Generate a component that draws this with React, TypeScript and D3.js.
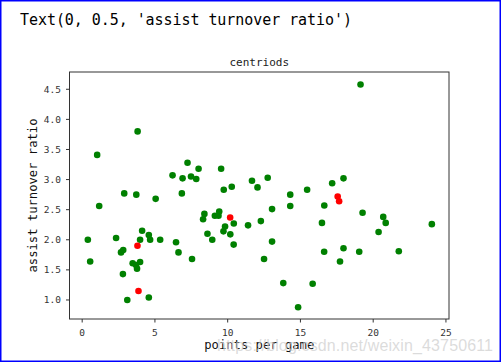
import React from "react";
import * as d3 from "d3";

const W = 502;
const H = 363;

// green player points: points per game
const greenX = [
  1.03, 3.81, 7.24, 6.21, 6.9, 7.48, 7.84, 8.0, 9.55, 9.73, 10.28, 11.67, 2.89, 3.72, 5.05, 6.85, 1.17,
  19.13, 12.05, 12.75, 14.3, 15.46, 17.18, 17.96, 13.05, 14.3, 16.64, 19.27, 8.4, 8.31, 9.12, 9.42, 9.37,
  10.42, 11.4, 12.28, 9.82, 9.71, 10.18, 8.61, 8.94, 10.41, 13.05, 12.5, 13.82, 15.84, 14.84, 16.48,
  20.69, 20.86, 20.37, 24.03, 17.96, 16.63, 19.04, 17.72, 21.76, 0.39, 0.55, 2.33, 4.12, 3.98, 4.58,
  4.67, 5.36, 2.67, 2.82, 6.45, 6.62, 7.55, 3.47, 3.98, 3.7, 3.77, 2.8, 3.1, 4.58,
];
// green player points: assist turnover ratio
const greenY = [
  3.41, 3.8, 3.28, 3.07, 3.02, 3.05, 3.01, 3.18, 3.18, 2.83, 2.88, 2.98, 2.77, 2.75, 2.68, 2.77, 2.56,
  4.58, 2.87, 3.03, 2.75, 2.83, 2.94, 3.02, 2.51, 2.56, 2.57, 2.45, 2.43, 2.34, 2.4, 2.47, 2.4,
  2.27, 2.24, 2.31, 2.22, 2.14, 2.09, 2.1, 2.0, 1.92, 1.97, 1.68, 1.28, 1.27, 0.88, 2.28,
  2.38, 2.28, 2.13, 2.26, 1.86, 1.8, 1.8, 1.64, 1.81, 2.0, 1.64, 2.03, 2.15, 2.0, 2.08,
  2.0, 2.0, 1.79, 1.83, 1.96, 1.79, 1.68, 1.61, 1.63, 1.58, 1.52, 1.43, 1.0, 1.04,
];

// red centroids
const centroidX = [3.8, 3.87, 10.17, 17.56, 17.66];
const centroidY = [1.9, 1.15, 2.37, 2.72, 2.64];

const xTicks = [0, 5, 10, 15, 20, 25];
const yTicks = [1.0, 1.5, 2.0, 2.5, 3.0, 3.5, 4.0, 4.5];

const outputText = "Text(0, 0.5, 'assist turnover ratio')";
const title = "centriods";
const xLabel = "points per game";
const yLabel = "assist turnover ratio";
const watermark = "https://blog.csdn.net/weixin_43750611";

const mono = "'DejaVu Sans Mono', monospace";

export default function App() {
  const left = 69.5, right = 449, top = 72, bottom = 319;
  const x = d3.scaleLinear().domain([-0.871, 25.21]).range([left, right]);
  const y = d3.scaleLinear().domain([0.684, 4.787]).range([bottom, top]);

  const green = greenX.map((v, i) => [v, greenY[i]]);
  const red = centroidX.map((v, i) => [v, centroidY[i]]);

  return (
    <svg
      width={W}
      height={H}
      style={{ position: "absolute", left: 0, top: 0, background: "#fff" }}
    >
      <rect x={0} y={0} width={W} height={H} fill="#fff" />
      <rect x={0.75} y={0.75} width={499.5} height={360.5} fill="none" stroke="#0000ff" strokeWidth={1.5} />
      <text x={20} y={25} fontFamily={mono} fontSize={15} textLength={332} fill="#000">
        {outputText}
      </text>

      <text x={(left + right) / 2} y={66} textAnchor="middle" fontFamily={mono} fontSize={11} fill="#222">
        {title}
      </text>

      {green.map((d, i) => (
        <circle key={"g" + i} cx={x(d[0])} cy={y(d[1])} r={3.3} fill="#008000" />
      ))}
      {red.map((d, i) => (
        <circle key={"r" + i} cx={x(d[0])} cy={y(d[1])} r={3.3} fill="#ff0000" />
      ))}

      <rect x={left} y={top} width={right - left} height={bottom - top} fill="none" stroke="#333" strokeWidth={1} />

      {xTicks.map((t) => (
        <g key={"xt" + t}>
          <line x1={x(t)} x2={x(t)} y1={bottom} y2={bottom + 3.5} stroke="#333" />
          <text x={x(t)} y={336} textAnchor="middle" fontFamily={mono} fontSize={9.5} fill="#333">
            {t}
          </text>
        </g>
      ))}
      {yTicks.map((t) => (
        <g key={"yt" + t}>
          <line x1={left - 3.5} x2={left} y1={y(t)} y2={y(t)} stroke="#333" />
          <text x={61} y={y(t) + 3.3} textAnchor="end" fontFamily={mono} fontSize={9.5} fill="#333">
            {t.toFixed(1)}
          </text>
        </g>
      ))}

      <text x={(left + right) / 2} y={349} textAnchor="middle" fontFamily={mono} fontSize={12.2} fill="#111">
        {xLabel}
      </text>
      <text
        transform={`translate(37,${(top + bottom) / 2}) rotate(-90)`}
        textAnchor="middle"
        fontFamily={mono}
        fontSize={12.2}
        fill="#111"
      >
        {yLabel}
      </text>

      <text
        x={217}
        y={351}
        fontFamily="'Liberation Sans', Arial, sans-serif"
        fontSize={16}
        textLength={276}
        fill="#d0d0d0"
        fillOpacity={0.75}
      >
        {watermark}
      </text>
    </svg>
  );
}
